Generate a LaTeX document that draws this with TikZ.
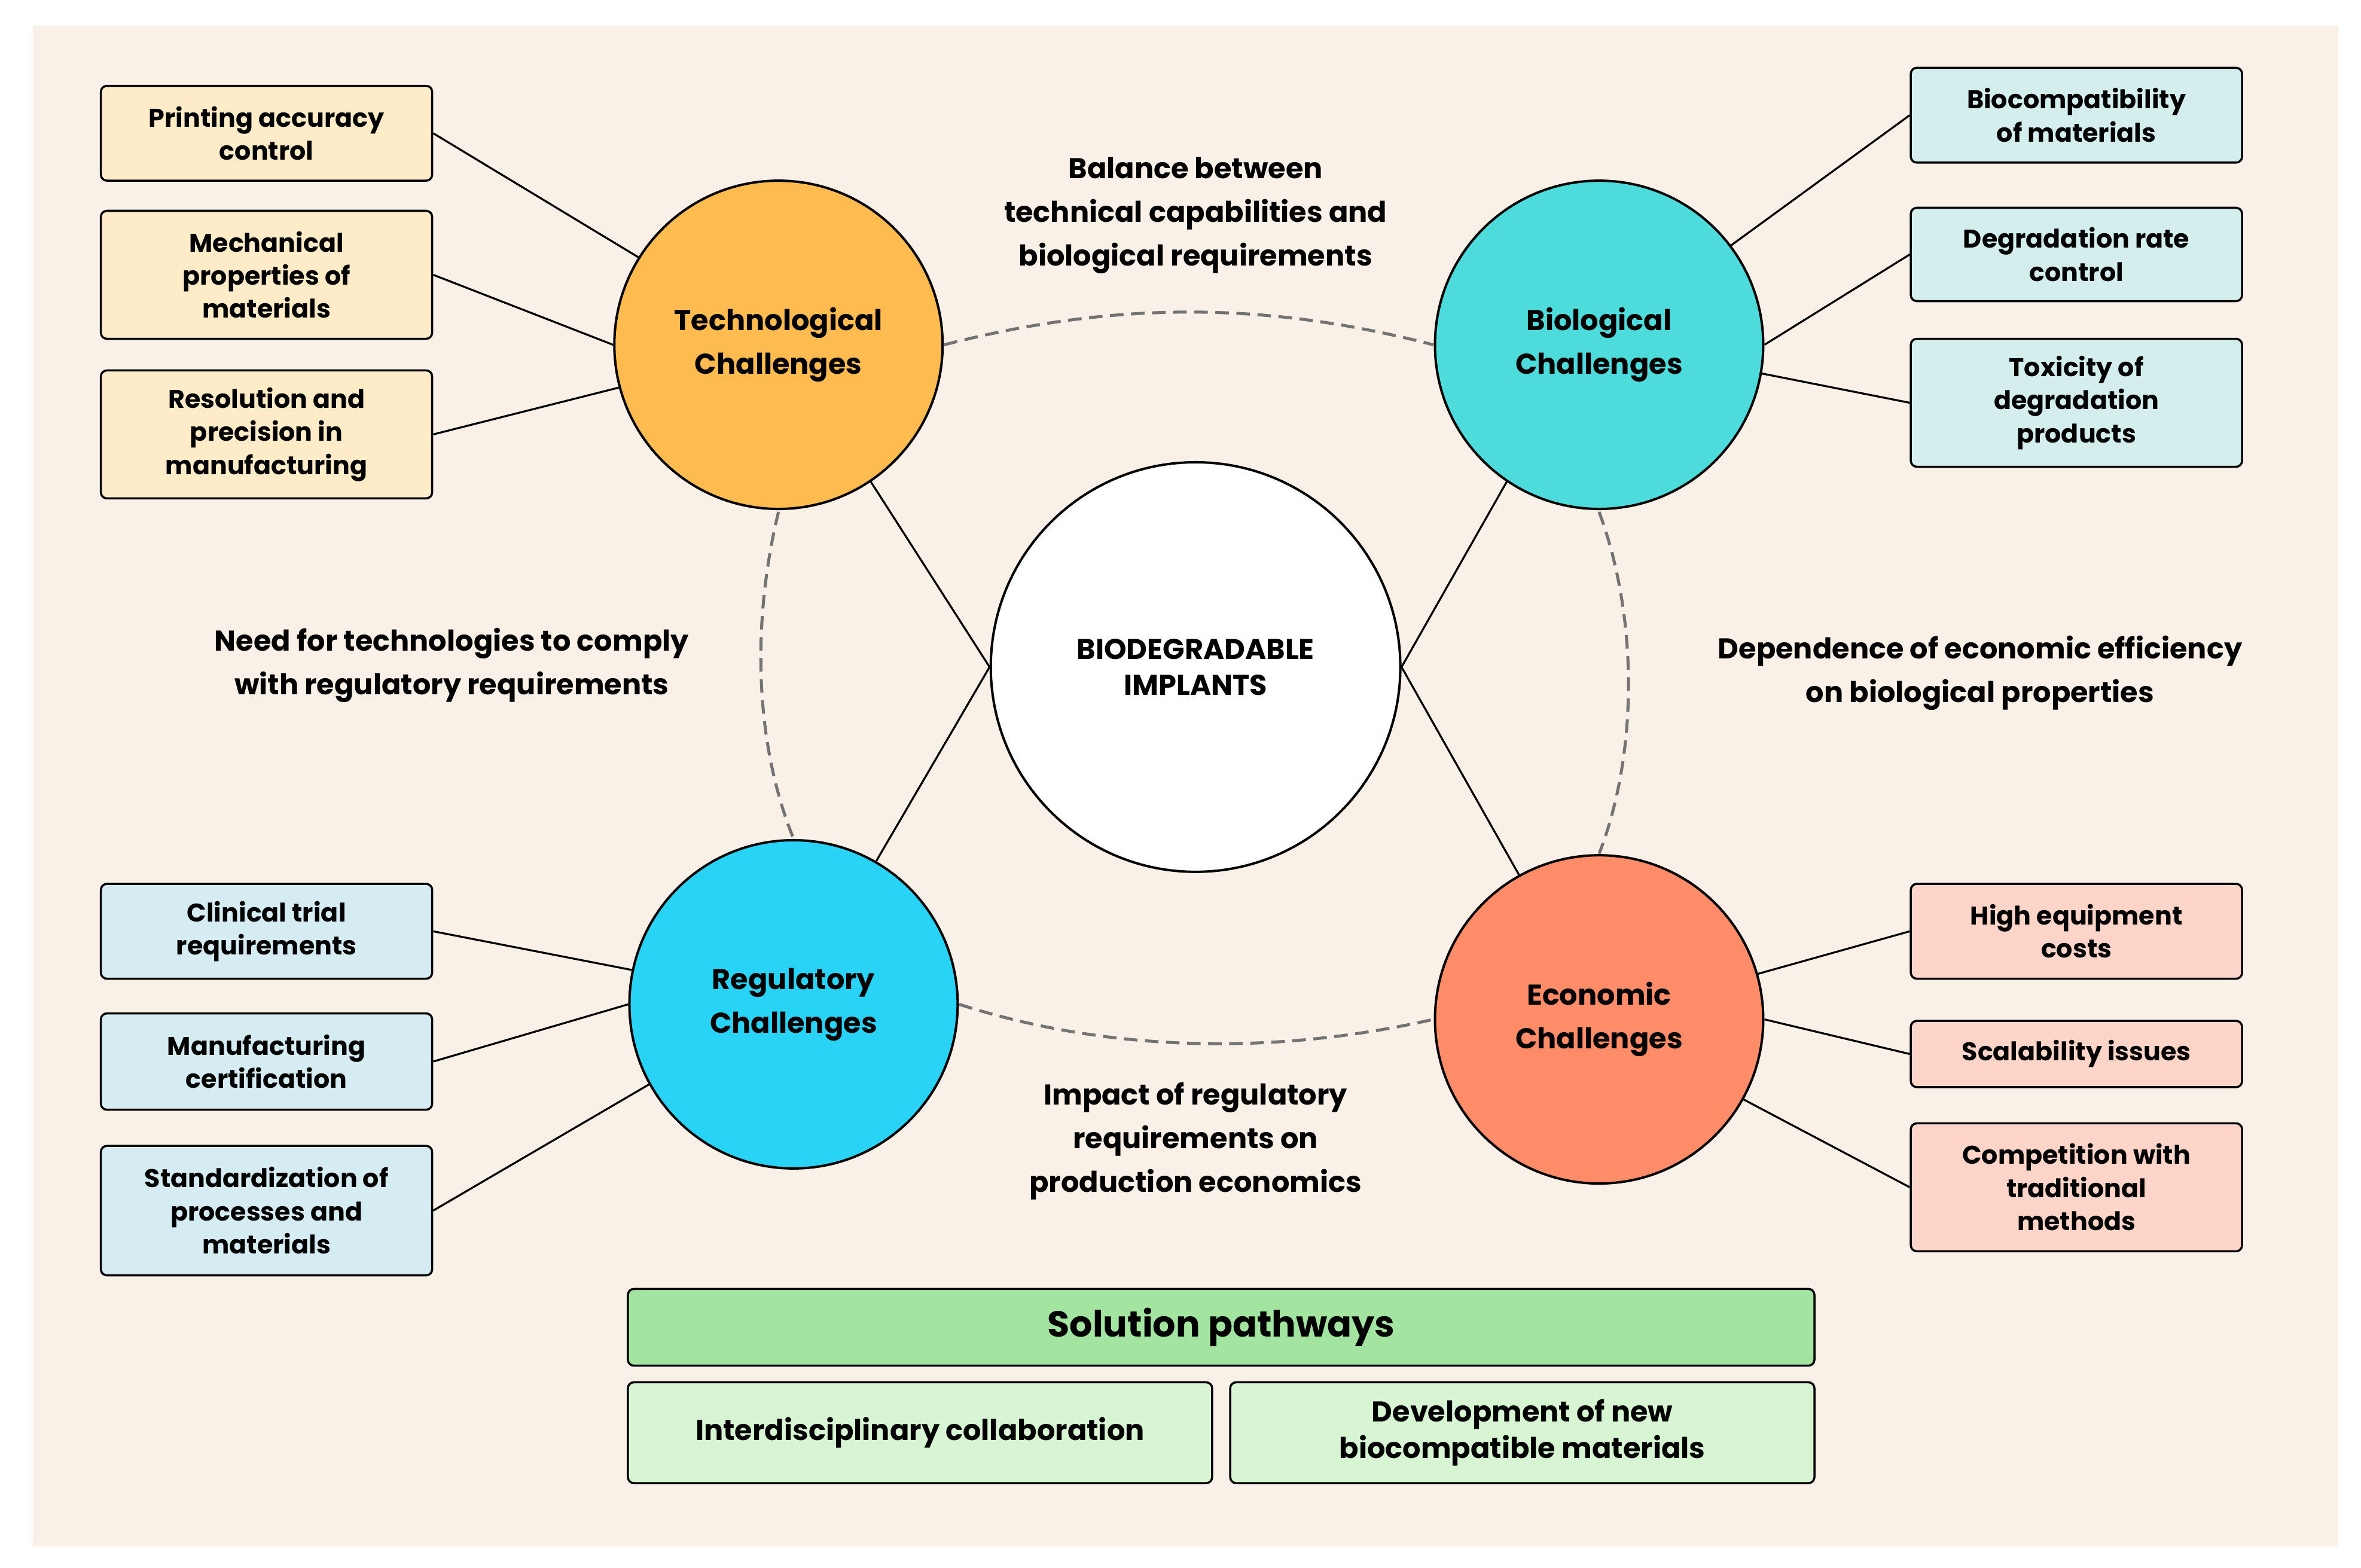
\documentclass[tikz,border=0pt]{standalone}
\usepackage{fontspec}
\setmainfont{Poppins}
\begin{document}
\begin{tikzpicture}[x=1pt,y=-1pt,
 box/.style={draw=black,line width=1.4pt,rounded corners=4pt,align=center,font=\bfseries\fontsize{17}{22}\selectfont,inner sep=0pt},
 circ/.style={circle,draw=black,line width=1.6pt,minimum size=218pt,inner sep=0pt,align=center,font=\bfseries\fontsize{19}{29}\selectfont},
 lbl/.style={align=center,font=\bfseries\fontsize{19}{29}\selectfont},
 con/.style={line width=1.3pt},
 dsh/.style={draw=gray!90!black,line width=2pt,dash pattern=on 9pt off 5pt}]
\definecolor{bg}{HTML}{F9F1E7}
\useasboundingbox (0,0) rectangle (1568,1041);
\fill[white] (0,0) rectangle (1568,1041);
\fill[bg] (22,17) rectangle (1553,1027);
% dashed arcs
\draw[dsh] (627,229) .. controls (740,200) and (840,200) .. (952,229);
\draw[dsh] (517,340) .. controls (500,410) and (500,490) .. (527,557);
\draw[dsh] (1062,340) .. controls (1088,410) and (1088,500) .. (1062,567);
\draw[dsh] (637,667) .. controls (740,700) and (850,700) .. (952,677);
% circles
\node[circ,fill={rgb,255:red,253;green,187;blue,80}] (tech) at (517,229) {Technological\\Challenges};
\node[circ,fill={rgb,255:red,77;green,219;blue,219}] (bio) at (1062,229) {Biological\\Challenges};
\node[circ,fill={rgb,255:red,41;green,211;blue,245}] (reg) at (527,667) {Regulatory\\Challenges};
\node[circ,fill={rgb,255:red,255;green,140;blue,105}] (eco) at (1062,677) {Economic\\Challenges};
\node[circ,fill=white,minimum size=272pt,font=\bfseries\fontsize{19}{24}\selectfont] (c) at (794,443) {BIODEGRADABLE\\IMPLANTS};
\draw[con] (tech.-56) -- (c.west);
\draw[con] (bio.-124) -- (c.east);
\draw[con] (reg.60) -- (c.west);
\draw[con] (eco.119) -- (c.east);
% boxes
\tikzset{tb/.style={box,fill={rgb,255:red,254;green,235;blue,200}},
 rb/.style={box,fill={rgb,255:red,214;green,236;blue,243}},
 bb/.style={box,fill={rgb,255:red,212;green,238;blue,238}},
 eb/.style={box,fill={rgb,255:red,252;green,212;blue,200}}}
\node[tb,minimum width=220pt,minimum height=63pt] (t1) at (177,88.5) {Printing accuracy\\control};
\node[tb,minimum width=220pt,minimum height=85pt] (t2) at (177,182.5) {Mechanical\\properties of\\materials};
\node[tb,minimum width=220pt,minimum height=85pt] (t3) at (177,288.5) {Resolution and\\precision in\\manufacturing};
\node[rb,minimum width=220pt,minimum height=63pt] (r1) at (177,618.5) {Clinical trial\\requirements};
\node[rb,minimum width=220pt,minimum height=64pt] (r2) at (177,705) {Manufacturing\\certification};
\node[rb,minimum width=220pt,minimum height=86pt] (r3) at (177,804) {Standardization of\\processes and\\materials};
\node[bb,minimum width=220pt,minimum height=63pt] (b1) at (1379,76.5) {Biocompatibility\\of materials};
\node[bb,minimum width=220pt,minimum height=62pt] (b2) at (1379,169) {Degradation rate\\control};
\node[bb,minimum width=220pt,minimum height=85pt] (b3) at (1379,267.5) {Toxicity of\\degradation\\products};
\node[eb,minimum width=220pt,minimum height=63pt] (e1) at (1379,618.5) {High equipment\\costs};
\node[eb,minimum width=220pt,minimum height=44pt] (e2) at (1379,700) {Scalability issues};
\node[eb,minimum width=220pt,minimum height=85pt] (e3) at (1379,788.5) {Competition with\\traditional\\methods};
\draw[con] (t1.east) -- (tech.148);
\draw[con] (t2.east) -- (tech.180);
\draw[con] (t3.east) -- (tech.195);
\draw[con] (r1.east) -- (reg.168);
\draw[con] (r2.east) -- (reg.180);
\draw[con] (r3.east) -- (reg.209);
\draw[con] (b1.west) -- (bio.37);
\draw[con] (b2.west) -- (bio.0);
\draw[con] (b3.west) -- (bio.-10);
\draw[con] (e1.west) -- (eco.16);
\draw[con] (e2.west) -- (eco.0);
\draw[con] (e3.west) -- (eco.-29);
% labels
\node[lbl] (l1) at (794,143) {Balance between\\technical capabilities and\\biological requirements};
\node[lbl] (l2) at (300,442) {Need for technologies to comply\\with regulatory requirements};
\node[lbl] (l3) at (1315,447) {Dependence of economic efficiency\\on biological properties};
\node[lbl] (l4) at (794,758) {Impact of regulatory\\requirements on\\production economics};
% solutions
\node[box,fill={rgb,255:red,163;green,228;blue,160},minimum width=788pt,minimum height=51pt,font=\bfseries\fontsize{24}{28}\selectfont] (s) at (811,881.5) {Solution pathways};
\node[box,fill={rgb,255:red,215;green,245;blue,211},minimum width=388pt,minimum height=67pt,font=\bfseries\fontsize{19}{24}\selectfont] (s1) at (611,951.5) {Interdisciplinary collaboration};
\node[box,fill={rgb,255:red,215;green,245;blue,211},minimum width=388pt,minimum height=67pt,font=\bfseries\fontsize{19}{24}\selectfont] (s2) at (1011,951.5) {Development of new\\biocompatible materials};
\end{tikzpicture}
\end{document}
